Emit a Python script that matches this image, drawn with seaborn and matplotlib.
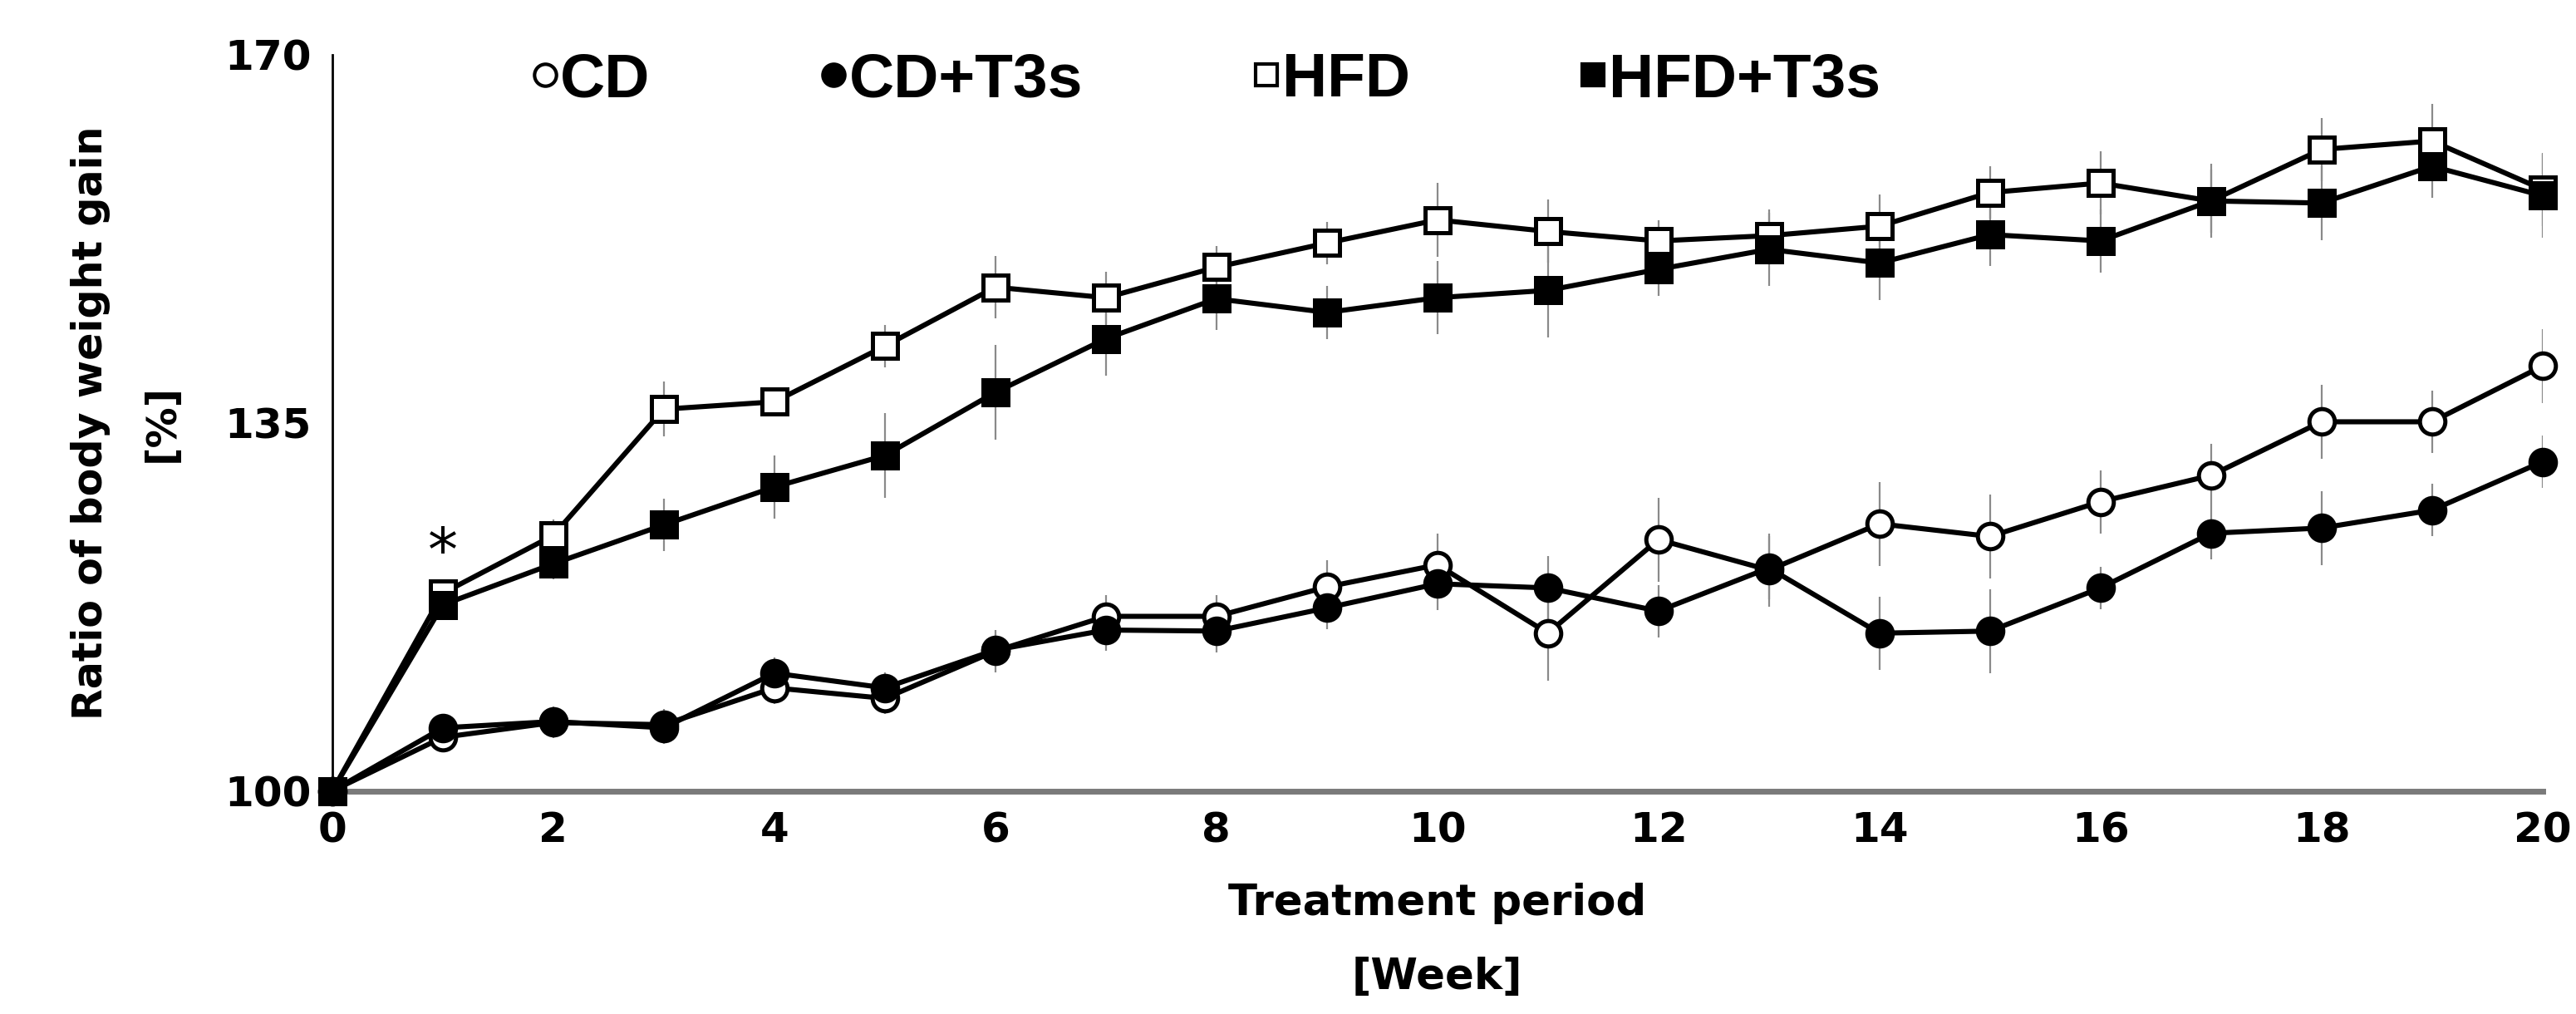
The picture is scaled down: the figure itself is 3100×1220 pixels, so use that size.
import numpy as np
import pandas as pd
import matplotlib
matplotlib.use("Agg")
import matplotlib.pyplot as plt
from matplotlib.lines import Line2D
import seaborn as sns

weeks = list(range(21))

cd = [100, 105.1, 106.5, 106.3, 109.8, 108.8, 113.3, 116.6, 116.6, 119.4, 121.5,
      115.0, 123.9, 121.0, 125.4, 124.2, 127.5, 130.0, 135.1, 135.1, 140.4]
cd_t3s = [100, 106.0, 106.6, 106.0, 111.2, 109.8, 113.4, 115.3, 115.2, 117.4, 119.7,
          119.3, 117.1, 121.2, 115.0, 115.2, 119.3, 124.5, 125.0, 126.7, 131.3]
hfd = [100, 118.8, 124.3, 136.3, 137.0, 142.3, 147.9, 146.9, 149.8, 152.1, 154.3,
       153.2, 152.3, 152.8, 153.7, 156.9, 157.8, 156.1, 161.0, 161.8, 157.2]
hfd_t3s = [100, 117.7, 121.6, 125.3, 128.9, 131.9, 137.9, 143.0, 146.8, 145.5, 146.9,
           147.6, 149.6, 151.5, 150.2, 152.9, 152.3, 156.1, 155.9, 159.4, 156.6]

# error bars (SEM)
cd_err = [0, 1.0, 1.5, 1.5, 1.5, 1.5, 2.0, 2.0, 2.0, 2.5, 3.0,
          4.5, 4.0, 3.5, 4.0, 4.0, 3.0, 3.0, 3.5, 3.0, 3.5]
cd_t3s_err = [0, 1.0, 1.0, 1.5, 1.5, 1.5, 1.5, 2.0, 2.0, 2.0, 2.5,
              3.0, 2.5, 3.0, 3.5, 4.0, 2.0, 2.5, 3.5, 2.5, 2.5]
hfd_err = [0, 0.5, 1.5, 2.6, 1.0, 2.0, 3.0, 2.5, 2.0, 2.0, 3.5,
           3.0, 2.0, 2.5, 3.0, 2.5, 3.0, 3.0, 3.0, 3.5, 3.5]
hfd_t3s_err = [0, 1.0, 1.5, 2.5, 3.0, 4.0, 4.5, 3.5, 3.0, 2.5, 3.5,
               4.5, 2.5, 3.5, 3.5, 3.0, 3.0, 3.5, 3.5, 3.0, 4.0]

groups = ["CD", "CD+T3s", "HFD", "HFD+T3s"]
values = [cd, cd_t3s, hfd, hfd_t3s]
errors = [cd_err, cd_t3s_err, hfd_err, hfd_t3s_err]
markers = ["o", "o", "s", "s"]
faces = ["white", "black", "white", "black"]

rows = []
for g, v, e in zip(groups, values, errors):
    for w, y, s in zip(weeks, v, e):
        rows.append({"week": w, "ratio": y, "sem": s, "group": g})
df = pd.DataFrame(rows)

sns.set_theme(style="white")
plt.rcParams['font.family'] = ['DejaVu Sans']
plt.rcParams['text.color'] = 'black'
plt.rcParams['axes.labelcolor'] = 'black'

fig = plt.figure(figsize=(15.5, 6.1), dpi=200)
ax = fig.add_axes([0.129, 0.22, 0.858, 0.726])

for g, m, fc in zip(groups, markers, faces):
    sub = df[df["group"] == g]
    ax.errorbar(sub["week"], sub["ratio"], yerr=sub["sem"], fmt="none",
                ecolor="#8a8a8a", elinewidth=0.8, capsize=0, zorder=1)
    sns.lineplot(data=sub, x="week", y="ratio", ax=ax, color="black",
                 linewidth=2.2, marker=m, markersize=11, markerfacecolor=fc,
                 markeredgecolor="black", markeredgewidth=1.8,
                 errorbar=None, legend=False, zorder=3, clip_on=False)

ax.text(1, 122.5, "*", ha="center", va="center", fontsize=26, color="black")

ax.set_xlim(0, 20)
ax.set_ylim(100, 170)
ax.set_xticks(range(0, 21, 2))
ax.set_yticks([100, 135, 170])
for lab in ax.get_xticklabels() + ax.get_yticklabels():
    lab.set_fontweight("bold")
    lab.set_fontsize(18)
ax.tick_params(axis="x", direction="inout", length=7, width=1, pad=5,
               colors="black", labelcolor="black")
ax.tick_params(axis="y", direction="out", length=2.5, width=1, pad=6.5,
               colors="black", labelcolor="black")

for side in ["top", "right"]:
    ax.spines[side].set_visible(False)
ax.spines["left"].set_color("black")
ax.spines["left"].set_linewidth(1)
ax.spines["bottom"].set_color("#7a7a7a")
ax.spines["bottom"].set_linewidth(2.5)

ax.set_xlabel("Treatment period\n[Week]", fontsize=18.5, fontweight="bold",
              linespacing=2.0, color="black")
ax.set_ylabel("Ratio of body weight gain\n[%]", fontsize=17.7, fontweight="bold",
              linespacing=2.0, color="black")
ax.xaxis.set_label_coords(0.5, -0.125)
ax.yaxis.set_label_coords(-0.068, 0.5)

handles = [Line2D([], [], linestyle="none", marker=m, markersize=9.5,
                  markerfacecolor=fc, markeredgecolor="black", markeredgewidth=1.5)
           for m, fc in zip(markers, faces)]
leg = ax.legend(handles, groups, loc="center", bbox_to_anchor=(0.3955, 0.965),
                ncol=4, frameon=False, handlelength=0.4, handletextpad=0.05,
                columnspacing=2.74, labelcolor="black",
                prop={"family": ["Liberation Sans", "DejaVu Sans"], "weight": "bold", "size": 27})

fig.savefig("out.png", dpi=200)
